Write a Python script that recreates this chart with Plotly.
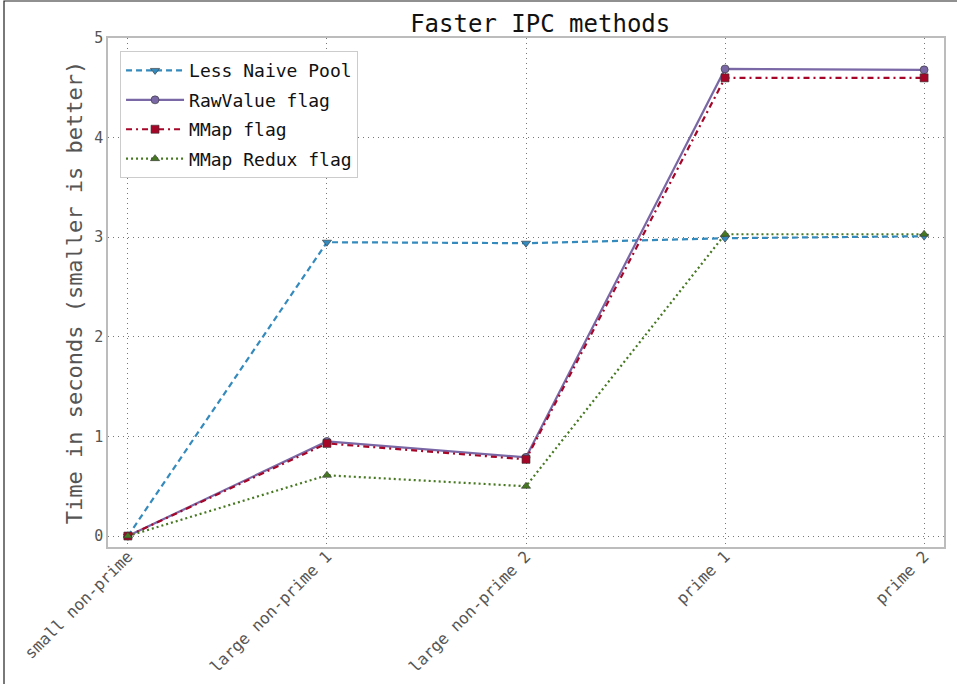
import plotly.graph_objects as go

categories = ["small non-prime", "large non-prime 1", "large non-prime 2", "prime 1", "prime 2"]
less_naive_pool = [0.0, 2.95, 2.94, 2.99, 3.01]
rawvalue_flag = [0.0, 0.95, 0.79, 4.69, 4.68]
mmap_flag = [0.0, 0.93, 0.77, 4.60, 4.60]
mmap_redux_flag = [0.0, 0.61, 0.50, 3.03, 3.03]
y_ticks = [0, 1, 2, 3, 4, 5]

FONT = "DejaVu Sans Mono"
x = list(range(len(categories)))

fig = go.Figure()
series = [
    ("Less Naive Pool", less_naive_pool, "#348ABD", "6px,4px", "triangle-down"),
    ("RawValue flag", rawvalue_flag, "#7A68A6", "solid", "circle"),
    ("MMap flag", mmap_flag, "#A60628", "6px,4px,2px,4px", "square"),
    ("MMap Redux flag", mmap_redux_flag, "#467821", "2px,3px", "triangle-up"),
]
for name, vals, color, dash, sym in series:
    fig.add_trace(go.Scatter(
        x=x, y=vals, name=name, mode="lines+markers", legendgroup=name,
        line=dict(color=color, width=2.2, dash=dash),
        marker=dict(symbol=sym, size=8, color=color,
                    line=dict(color="#333333", width=0.6)),
    ))

fig.add_shape(type="rect", xref="paper", yref="paper",
              x0=-0.1244, x1=1.03, y0=-0.3, y1=1.0727,
              line=dict(color="#222222", width=1.2), layer="below")

fig.update_layout(
    width=957, height=684,
    margin=dict(l=108, r=13, t=38, b=137),
    paper_bgcolor="white", plot_bgcolor="white",
    font=dict(family=FONT, color="#555555"),
    title=dict(text="Faster IPC methods", x=0.517, xref="paper", xanchor="center",
               y=0.965, yanchor="middle",
               font=dict(family=FONT, size=24, color="#111111")),
    showlegend=True,
    legend=dict(x=0.0144, y=0.974, xanchor="left", yanchor="top",
                bgcolor="white", bordercolor="#cccccc", borderwidth=1,
                font=dict(family=FONT, size=18, color="#111111"),
                tracegroupgap=3, itemwidth=58),
    xaxis=dict(range=[-0.1, 4.1], tickmode="array", tickvals=x, ticktext=categories,
               tickangle=-45, tickfont=dict(family=FONT, size=16, color="#555555"),
               ticklabelstandoff=-8,
               showgrid=True, gridcolor="#777777", griddash="1px,4px", gridwidth=1,
               showline=True, mirror=True, linecolor="#bcbcbc", linewidth=1.5,
               zeroline=False, ticks="", automargin=False),
    yaxis=dict(range=[-0.11, 5.0], tickmode="array", tickvals=y_ticks,
               tickfont=dict(family=FONT, size=15, color="#555555"),
               title=dict(text="Time in seconds (smaller is better)",
                          font=dict(family=FONT, size=22, color="#555555"), standoff=6),
               showgrid=True, gridcolor="#777777", griddash="1px,4px", gridwidth=1,
               showline=True, mirror=True, linecolor="#bcbcbc", linewidth=1.5,
               zeroline=False, ticks="", automargin=False),
)

fig.write_html("out.html", config={"displayModeBar": False},
               post_script="document.body.style.margin='0';document.body.style.overflow='hidden';")
